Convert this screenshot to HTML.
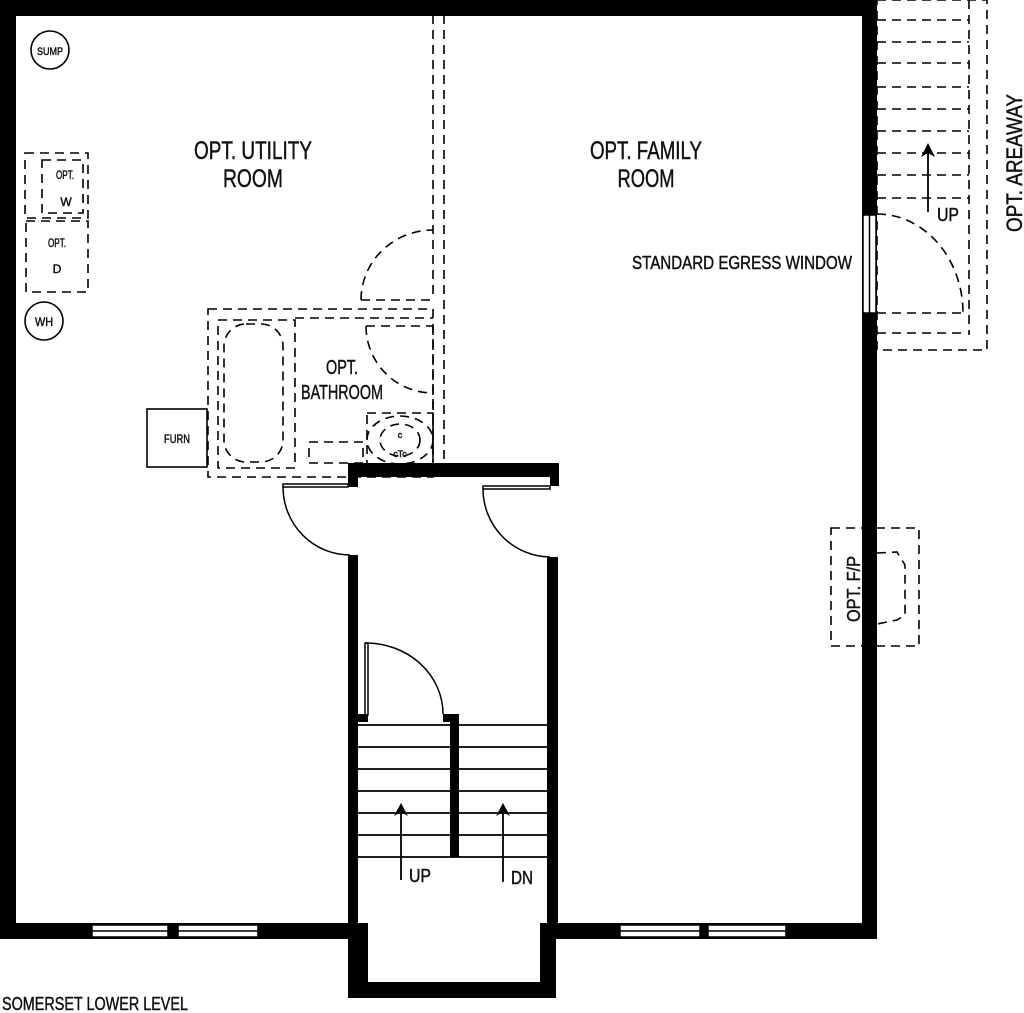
<!DOCTYPE html>
<html><head><meta charset="utf-8"><style>
html,body{margin:0;padding:0;background:#fff;}
svg{display:block;}
text{font-family:"Liberation Sans",sans-serif;fill:#111;stroke:#111;stroke-width:0.45;}
</style></head><body>
<svg width="1024" height="1013" viewBox="0 0 1024 1013" xmlns="http://www.w3.org/2000/svg">
<g fill="#000">
<rect x="0" y="0" width="877" height="16"/>
<rect x="0" y="0" width="16" height="939"/>
<rect x="862" y="0" width="15" height="939"/>
<rect x="0" y="923" width="368" height="16"/>
<rect x="540" y="923" width="337" height="16"/>
<rect x="348" y="923" width="20" height="75"/>
<rect x="540" y="923" width="16" height="75"/>
<rect x="348" y="982" width="208" height="16"/>
<rect x="348" y="463" width="211" height="14"/>
<rect x="348" y="463" width="10" height="24"/>
<rect x="550" y="463" width="9" height="23"/>
<rect x="348" y="555" width="10" height="370"/>
<rect x="547" y="557" width="11" height="368"/>
<rect x="450" y="714" width="9" height="143"/>
<rect x="358" y="714" width="10" height="8"/>
<rect x="443" y="714" width="10" height="8"/>
</g>
<g fill="#fff" stroke="#000" stroke-width="1.5">
<rect x="92" y="925" width="76" height="12"/><line x1="92" y1="931" x2="168" y2="931"/>
<rect x="178" y="925" width="80" height="12"/><line x1="178" y1="931" x2="258" y2="931"/>
<rect x="620" y="925" width="80" height="12"/><line x1="620" y1="931" x2="700" y2="931"/>
<rect x="708" y="925" width="78" height="12"/><line x1="708" y1="931" x2="786" y2="931"/>
<rect x="863" y="215" width="13" height="98"/><line x1="869.5" y1="215" x2="869.5" y2="313"/>
</g>
<g fill="none" stroke="#000" stroke-width="1.5">
<rect x="283" y="484" width="65" height="3"/>
<path d="M283 487 A67 68 0 0 0 350 555"/>
<rect x="483" y="486" width="67" height="3"/>
<path d="M483 489 A68 68 0 0 0 550 557"/>
<rect x="365" y="643" width="3" height="72"/>
<path d="M366 643 A77 71 0 0 1 443 714"/>
</g>
<g stroke="#000" stroke-width="1.8">
<line x1="358" y1="725" x2="550" y2="725"/>
<line x1="358" y1="747" x2="550" y2="747"/>
<line x1="358" y1="769" x2="550" y2="769"/>
<line x1="358" y1="791" x2="550" y2="791"/>
<line x1="358" y1="813" x2="550" y2="813"/>
<line x1="358" y1="835" x2="550" y2="835"/>
<line x1="358" y1="857" x2="550" y2="857"/>
<line x1="401" y1="880" x2="401" y2="812"/>
<line x1="503" y1="882" x2="503" y2="812"/>
<line x1="928" y1="212" x2="928" y2="150"/>
</g>
<g fill="#000">
<path d="M394 816 L401 803 L408 816 L401 812Z"/>
<path d="M496 816 L503 803 L510 816 L503 812Z"/>
<path d="M921 157 L928 143 L935 157 L928 153Z"/>
</g>
<g fill="none" stroke="#000" stroke-width="1.6" stroke-dasharray="9,6">
<line x1="433" y1="0" x2="433" y2="300"/>
<line x1="444" y1="0" x2="444" y2="462"/>
<line x1="433" y1="326" x2="433" y2="462"/>
<rect x="208" y="309" width="225" height="168"/>
<rect x="218" y="320" width="77" height="148"/>
<line x1="295" y1="318" x2="433" y2="318"/>
<rect x="224" y="324" width="59" height="138" rx="22"/>
<line x1="361" y1="300" x2="433" y2="300"/>
<path d="M361 300 A72 70 0 0 1 433 230"/>
<line x1="366" y1="326" x2="433" y2="326"/>
<path d="M366 326 A67 67 0 0 0 433 393"/>
<rect x="367" y="413" width="66" height="52"/>
<ellipse cx="400" cy="440" rx="33" ry="24"/>
<ellipse cx="400" cy="440" rx="20" ry="16"/>
<rect x="309" y="442" width="54" height="21"/>
<rect x="25" y="153" width="63" height="65"/>
<rect x="42" y="160" width="41" height="53"/>
<rect x="26" y="221" width="62" height="71"/>
<rect x="877" y="0" width="110" height="350"/>
<line x1="969" y1="0" x2="969" y2="335"/>
<line x1="877" y1="20" x2="969" y2="20"/>
<line x1="877" y1="42" x2="969" y2="42"/>
<line x1="877" y1="63" x2="969" y2="63"/>
<line x1="877" y1="87" x2="969" y2="87"/>
<line x1="877" y1="109" x2="969" y2="109"/>
<line x1="877" y1="131" x2="969" y2="131"/>
<line x1="877" y1="153" x2="969" y2="153"/>
<line x1="877" y1="175" x2="969" y2="175"/>
<line x1="877" y1="198" x2="969" y2="198"/>
<line x1="877" y1="313" x2="963" y2="313"/>
<line x1="877" y1="333" x2="963" y2="333"/>
<path d="M877 214 A86 99 0 0 1 963 313"/>
<rect x="831" y="528" width="88" height="118"/>
<path d="M877 553 L897 552 L905 565 L905 615 L897 620 L877 624"/>
</g>
<g fill="none" stroke="#000" stroke-width="1.6">
<circle cx="50" cy="50" r="19"/>
<circle cx="44" cy="321" r="19"/>
<rect x="147" y="409" width="60" height="58"/>
</g>
<g text-anchor="middle">
<text x="253" y="159" font-size="25" textLength="118" lengthAdjust="spacingAndGlyphs">OPT. UTILITY</text>
<text x="253" y="187" font-size="25" textLength="60" lengthAdjust="spacingAndGlyphs">ROOM</text>
<text x="646" y="159" font-size="25" textLength="112" lengthAdjust="spacingAndGlyphs">OPT. FAMILY</text>
<text x="646" y="187" font-size="25" textLength="57" lengthAdjust="spacingAndGlyphs">ROOM</text>
<text x="342" y="374" font-size="20" textLength="32" lengthAdjust="spacingAndGlyphs">OPT.</text>
<text x="342" y="399" font-size="20" textLength="82" lengthAdjust="spacingAndGlyphs">BATHROOM</text>
<text x="50" y="55" font-size="11" textLength="26" lengthAdjust="spacingAndGlyphs">SUMP</text>
<text x="44" y="326" font-size="12" textLength="18" lengthAdjust="spacingAndGlyphs">WH</text>
<text x="177" y="443" font-size="12" textLength="26" lengthAdjust="spacingAndGlyphs">FURN</text>
<text x="65" y="179" font-size="12" textLength="18" lengthAdjust="spacingAndGlyphs">OPT.</text>
<text x="66" y="206" font-size="12">W</text>
<text x="57" y="247" font-size="12" textLength="18" lengthAdjust="spacingAndGlyphs">OPT.</text>
<text x="57" y="273" font-size="12">D</text>
<text x="400" y="438" font-size="9">c</text>
<text x="400" y="457" font-size="9">cTc</text>
</g>
<text x="632" y="269" font-size="18" textLength="220" lengthAdjust="spacingAndGlyphs">STANDARD EGRESS WINDOW</text>
<text x="409" y="882" font-size="18" textLength="22" lengthAdjust="spacingAndGlyphs">UP</text>
<text x="511" y="884" font-size="18" textLength="22" lengthAdjust="spacingAndGlyphs">DN</text>
<text x="937" y="221" font-size="18" textLength="22" lengthAdjust="spacingAndGlyphs">UP</text>
<text x="2" y="1010" font-size="18" textLength="186" lengthAdjust="spacingAndGlyphs">SOMERSET LOWER LEVEL</text>
<text transform="translate(1022,232) rotate(-90)" font-size="22" textLength="138" lengthAdjust="spacingAndGlyphs">OPT. AREAWAY</text>
<text transform="translate(860,622) rotate(-90)" font-size="18" textLength="66" lengthAdjust="spacingAndGlyphs">OPT. F/P</text>
</svg>
</body></html>
